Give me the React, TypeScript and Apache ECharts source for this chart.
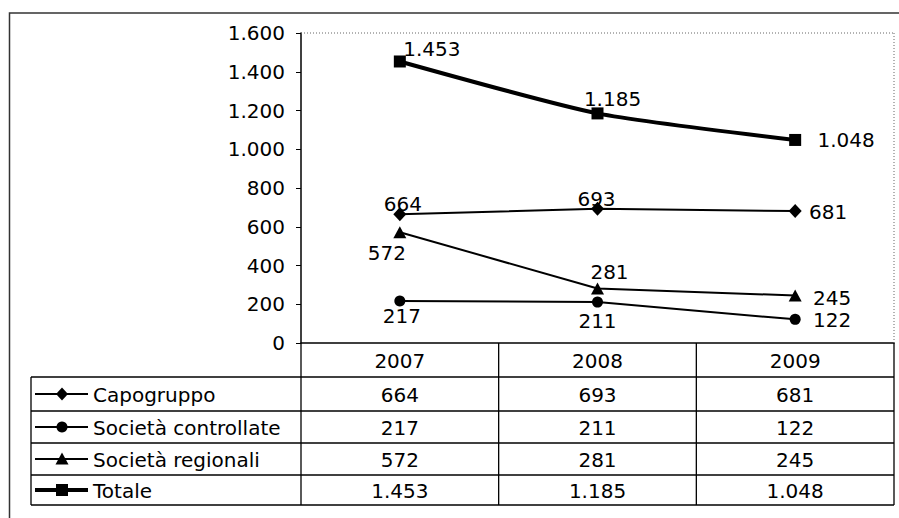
import React, { useEffect, useRef } from "react";
import * as echarts from "echarts";

// ---- data ----
const years = ["2007", "2008", "2009"];
const seriesNames = ["Capogruppo", "Società controllate", "Società regionali", "Totale"];
const capogruppo = [664, 693, 681];
const controllate = [217, 211, 122];
const regionali = [572, 281, 245];
const totale = [1453, 1185, 1048];
const yMin = 0;
const yMax = 1600;
const yStep = 200;

const allValues = [capogruppo, controllate, regionali, totale];

// label offsets (style, relative to marker centre)
const labelOffsets: number[][][] = [
  [[3, -10], [-1, -10], [33, 1]],
  [[2, 15], [0, 19], [37, 1]],
  [[-13, 21], [12, -17], [37, 2]],
  [[32, -12], [15, -14], [51, 0]],
];

const FONT = "'DejaVu Sans', Verdana, sans-serif";
const FS = 20;

const fmt = (n: number) => String(n).replace(/\B(?=(\d{3})+(?!\d))/g, ".");

const symbols = ["diamond", "circle", "triangle", "rect"];
const symbolSizes: any[] = [[13, 14], 11, [13, 12], 12];
const lineWidths = [2, 2, 2, 4];

export default function App() {
  const ref = useRef<HTMLDivElement>(null);
  useEffect(() => {
    if (!ref.current) return;
    const chart = echarts.init(ref.current, null, { renderer: "svg" });
    const option: any = {
      animation: false,
      backgroundColor: "#fff",
      grid: { left: 301, right: 5, top: 33, height: 310, containLabel: false },
      xAxis: {
        type: "category",
        data: years,
        boundaryGap: true,
        axisLine: { lineStyle: { color: "#000", width: 1.5 } },
        axisTick: { show: false },
        axisLabel: { show: false },
        splitLine: { show: false },
      },
      yAxis: {
        type: "value",
        min: yMin,
        max: yMax,
        interval: yStep,
        axisLine: { show: true, lineStyle: { color: "#000", width: 1.5 } },
        axisTick: { show: true, length: 5, lineStyle: { color: "#000" } },
        axisLabel: {
          margin: 16,
          color: "#000",
          fontFamily: FONT,
          fontSize: FS,
          formatter: (v: number) => fmt(v),
        },
        splitLine: { show: false },
      },
      series: seriesNames.map((name, si) => ({
        name,
        type: "line",
        smooth: si === 3 ? 0.2 : false,
        symbol: symbols[si],
        symbolSize: symbolSizes[si],
        showAllSymbol: true,
        lineStyle: { color: "#000", width: lineWidths[si] },
        itemStyle: { color: "#000" },
        z: si === 3 ? 5 : 3,
        data: allValues[si].map((v, i) => ({
          value: v,
          label: {
            show: true,
            position: "inside",
            offset: labelOffsets[si][i],
            formatter: () => fmt(v),
            color: "#000",
            fontFamily: FONT,
            fontSize: FS,
          },
        })),
      })),
    };
    chart.setOption(option);

    // ---- data table beneath the plot ----
    const xs = years.map((y) => chart.convertToPixel({ xAxisIndex: 0 }, y) as number);
    const y0 = chart.convertToPixel({ yAxisIndex: 0 }, yMin) as number;
    const yTop = chart.convertToPixel({ yAxisIndex: 0 }, yMax) as number;
    const step = xs[1] - xs[0];
    const colEdges = [xs[0] - step / 2, ...xs.map((x) => x + step / 2)];
    const plotLeft = colEdges[0];
    const plotRight = colEdges[colEdges.length - 1];
    const tableLeft = 31;
    const rowEdges = [y0, y0 + 34, y0 + 68, y0 + 100, y0 + 132, y0 + 162];
    const tableBottom = rowEdges[rowEdges.length - 1];

    const els: any[] = [];
    const line = (x1: number, y1: number, x2: number, y2: number, w = 1.3, dash?: number[], color = "#000") =>
      els.push({
        type: "line",
        silent: true,
        shape: { x1, y1, x2, y2 },
        style: { stroke: color, lineWidth: w, lineDash: dash },
        z: 10,
      });

    // outer frame
    els.push({
      type: "rect",
      silent: true,
      shape: { x: 9.5, y: 13, width: 905, height: 530 },
      style: { fill: null, stroke: "#333", lineWidth: 1.5 },
      z: 1,
    });
    // plot area dotted border (top & right)
    line(plotLeft, yTop, plotRight, yTop, 1, [1, 2], "#666");
    line(plotRight, yTop, plotRight, y0, 1, [1, 2], "#666");

    // vertical lines of table
    colEdges.forEach((x) => line(x, y0, x, tableBottom));
    line(tableLeft, rowEdges[1], tableLeft, tableBottom);
    // horizontal lines
    for (let r = 1; r < rowEdges.length; r++) line(tableLeft, rowEdges[r], plotRight, rowEdges[r]);

    const txt = (text: string, x: number, y: number, align = "center") =>
      els.push({
        type: "text",
        silent: true,
        x,
        y,
        style: {
          text,
          fill: "#000",
          font: `${FS}px ${FONT}`,
          align,
          verticalAlign: "middle",
        },
        z: 11,
      });

    // header
    years.forEach((yr, i) => txt(yr, xs[i], (rowEdges[0] + rowEdges[1]) / 2 + 1));
    // rows
    seriesNames.forEach((name, si) => {
      const cy = (rowEdges[si + 1] + rowEdges[si + 2]) / 2 + 1;
      allValues[si].forEach((v, i) => txt(fmt(v), xs[i], cy));
      txt(name, 93, cy, "left");
      // legend key
      const kx1 = 35;
      const kx2 = 88;
      const mx = 62;
      const ky = cy - 1;
      line(kx1, ky, kx2, ky, lineWidths[si]);
      const mk: any = { silent: true, z: 12, style: { fill: "#000", stroke: null } };
      if (si === 0) {
        mk.type = "polygon";
        mk.shape = { points: [[mx, ky - 6.5], [mx + 6, ky], [mx, ky + 6.5], [mx - 6, ky]] };
      } else if (si === 1) {
        mk.type = "circle";
        mk.shape = { cx: mx, cy: ky, r: 5.5 };
      } else if (si === 2) {
        mk.type = "polygon";
        mk.shape = { points: [[mx, ky - 6.5], [mx + 6.5, ky + 5.5], [mx - 6.5, ky + 5.5]] };
      } else {
        mk.type = "rect";
        mk.shape = { x: mx - 6, y: ky - 6, width: 12, height: 12 };
      }
      els.push(mk);
    });

    chart.setOption({ graphic: { elements: els } });

    return () => chart.dispose();
  }, []);
  return (
    <div
      ref={ref}
      style={{ position: "absolute", left: 0, top: 0, width: "899px", height: "518px" }}
    />
  );
}
